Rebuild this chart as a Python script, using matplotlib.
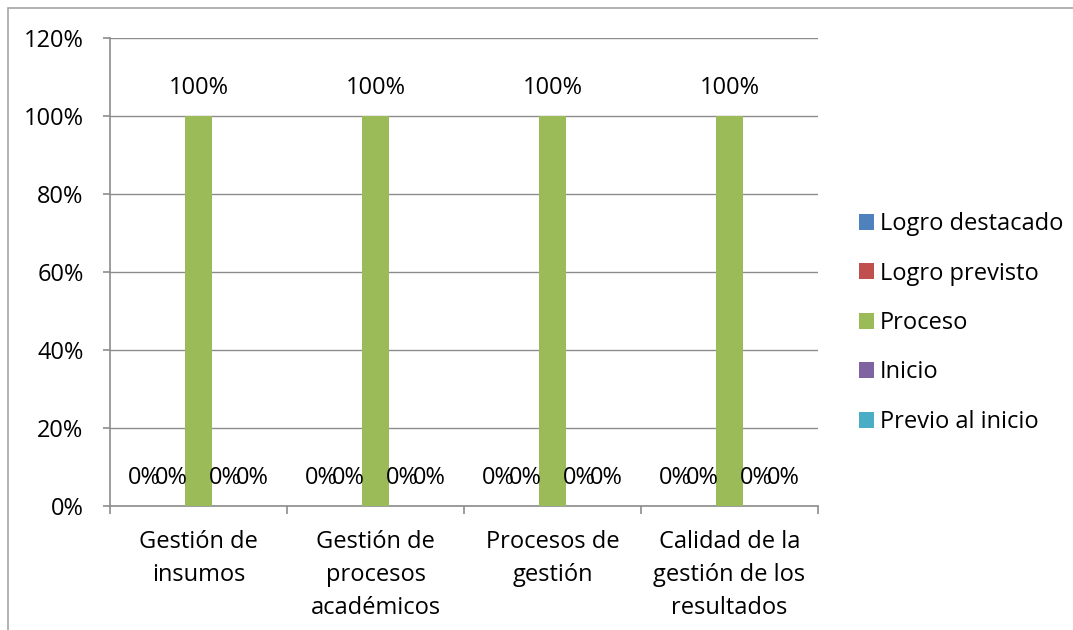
import matplotlib
matplotlib.use("Agg")
import matplotlib.pyplot as plt
import numpy as np
from matplotlib.patches import Rectangle

categories = ["Gestión de\ninsumos", "Gestión de\nprocesos\nacadémicos",
              "Procesos de\ngestión", "Calidad de la\ngestión de los\nresultados"]
series_names = ["Logro destacado", "Logro previsto", "Proceso", "Inicio", "Previo al inicio"]
logro_destacado = [0, 0, 0, 0]
logro_previsto = [0, 0, 0, 0]
proceso = [100, 100, 100, 100]
inicio = [0, 0, 0, 0]
previo_inicio = [0, 0, 0, 0]
series_values = [logro_destacado, logro_previsto, proceso, inicio, previo_inicio]
colors = ["#4F81BD", "#C0504D", "#9BBB59", "#8064A2", "#4BACC6"]
yticks = [0, 20, 40, 60, 80, 100, 120]

plt.rcParams['font.family'] = ['Open Sans', 'DejaVu Sans']
fs = 17

fig = plt.figure(figsize=(10.73, 6.30), dpi=100)
ax = fig.add_axes([110/1073, 1-506/630, (818-110)/1073, (506-38)/630])

# figure border
fig.patches.append(Rectangle((8/1073, -0.1), 2, (1-8/630)+0.1, transform=fig.transFigure,
                             fill=False, edgecolor="#A6A6A6", linewidth=1.2))

x = np.arange(len(categories))
w = 0.152
for i, (name, vals, c) in enumerate(zip(series_names, series_values, colors)):
    pos = x + (i - 2) * w
    ax.bar(pos, vals, width=w, color=c, label=name, zorder=3)
    for xp, v in zip(pos, vals):
        ax.annotate(f"{v}%", (xp, v), xytext=(0, 20), textcoords="offset points",
                    ha="center", va="center", fontsize=fs, color="black", zorder=4)

ax.set_xlim(-0.5, len(categories) - 0.5)
ax.set_ylim(0, 120)
ax.set_yticks(yticks)
ax.set_yticklabels([f"{t}%" for t in yticks], fontsize=fs)
ax.yaxis.grid(True, color="#8C8C8C", linewidth=1.0, zorder=0)
ax.set_axisbelow(True)

ax.set_xticks(x)
ax.set_xticklabels(categories, fontsize=fs, linespacing=1.5, va="top")
ax.tick_params(axis="x", length=0, pad=17)
ax.set_xticks(np.arange(len(categories) + 1) - 0.5, minor=True)
ax.tick_params(axis="x", which="minor", length=6, color="#8C8C8C", width=1.2)
ax.tick_params(axis="y", length=5, color="#8C8C8C", width=1.2, pad=14)

for s in ["top", "right"]:
    ax.spines[s].set_visible(False)
for s in ["left", "bottom"]:
    ax.spines[s].set_color("#8C8C8C")
    ax.spines[s].set_linewidth(1.2)

ax.legend(loc="center left", bbox_to_anchor=(859/1073, 1-323/630), bbox_transform=fig.transFigure,
          frameon=False, fontsize=fs, handlelength=0.65, handleheight=0.65,
          handletextpad=0.25, labelspacing=1.08, borderpad=0, borderaxespad=0)

fig.savefig("out.png", dpi=100)
